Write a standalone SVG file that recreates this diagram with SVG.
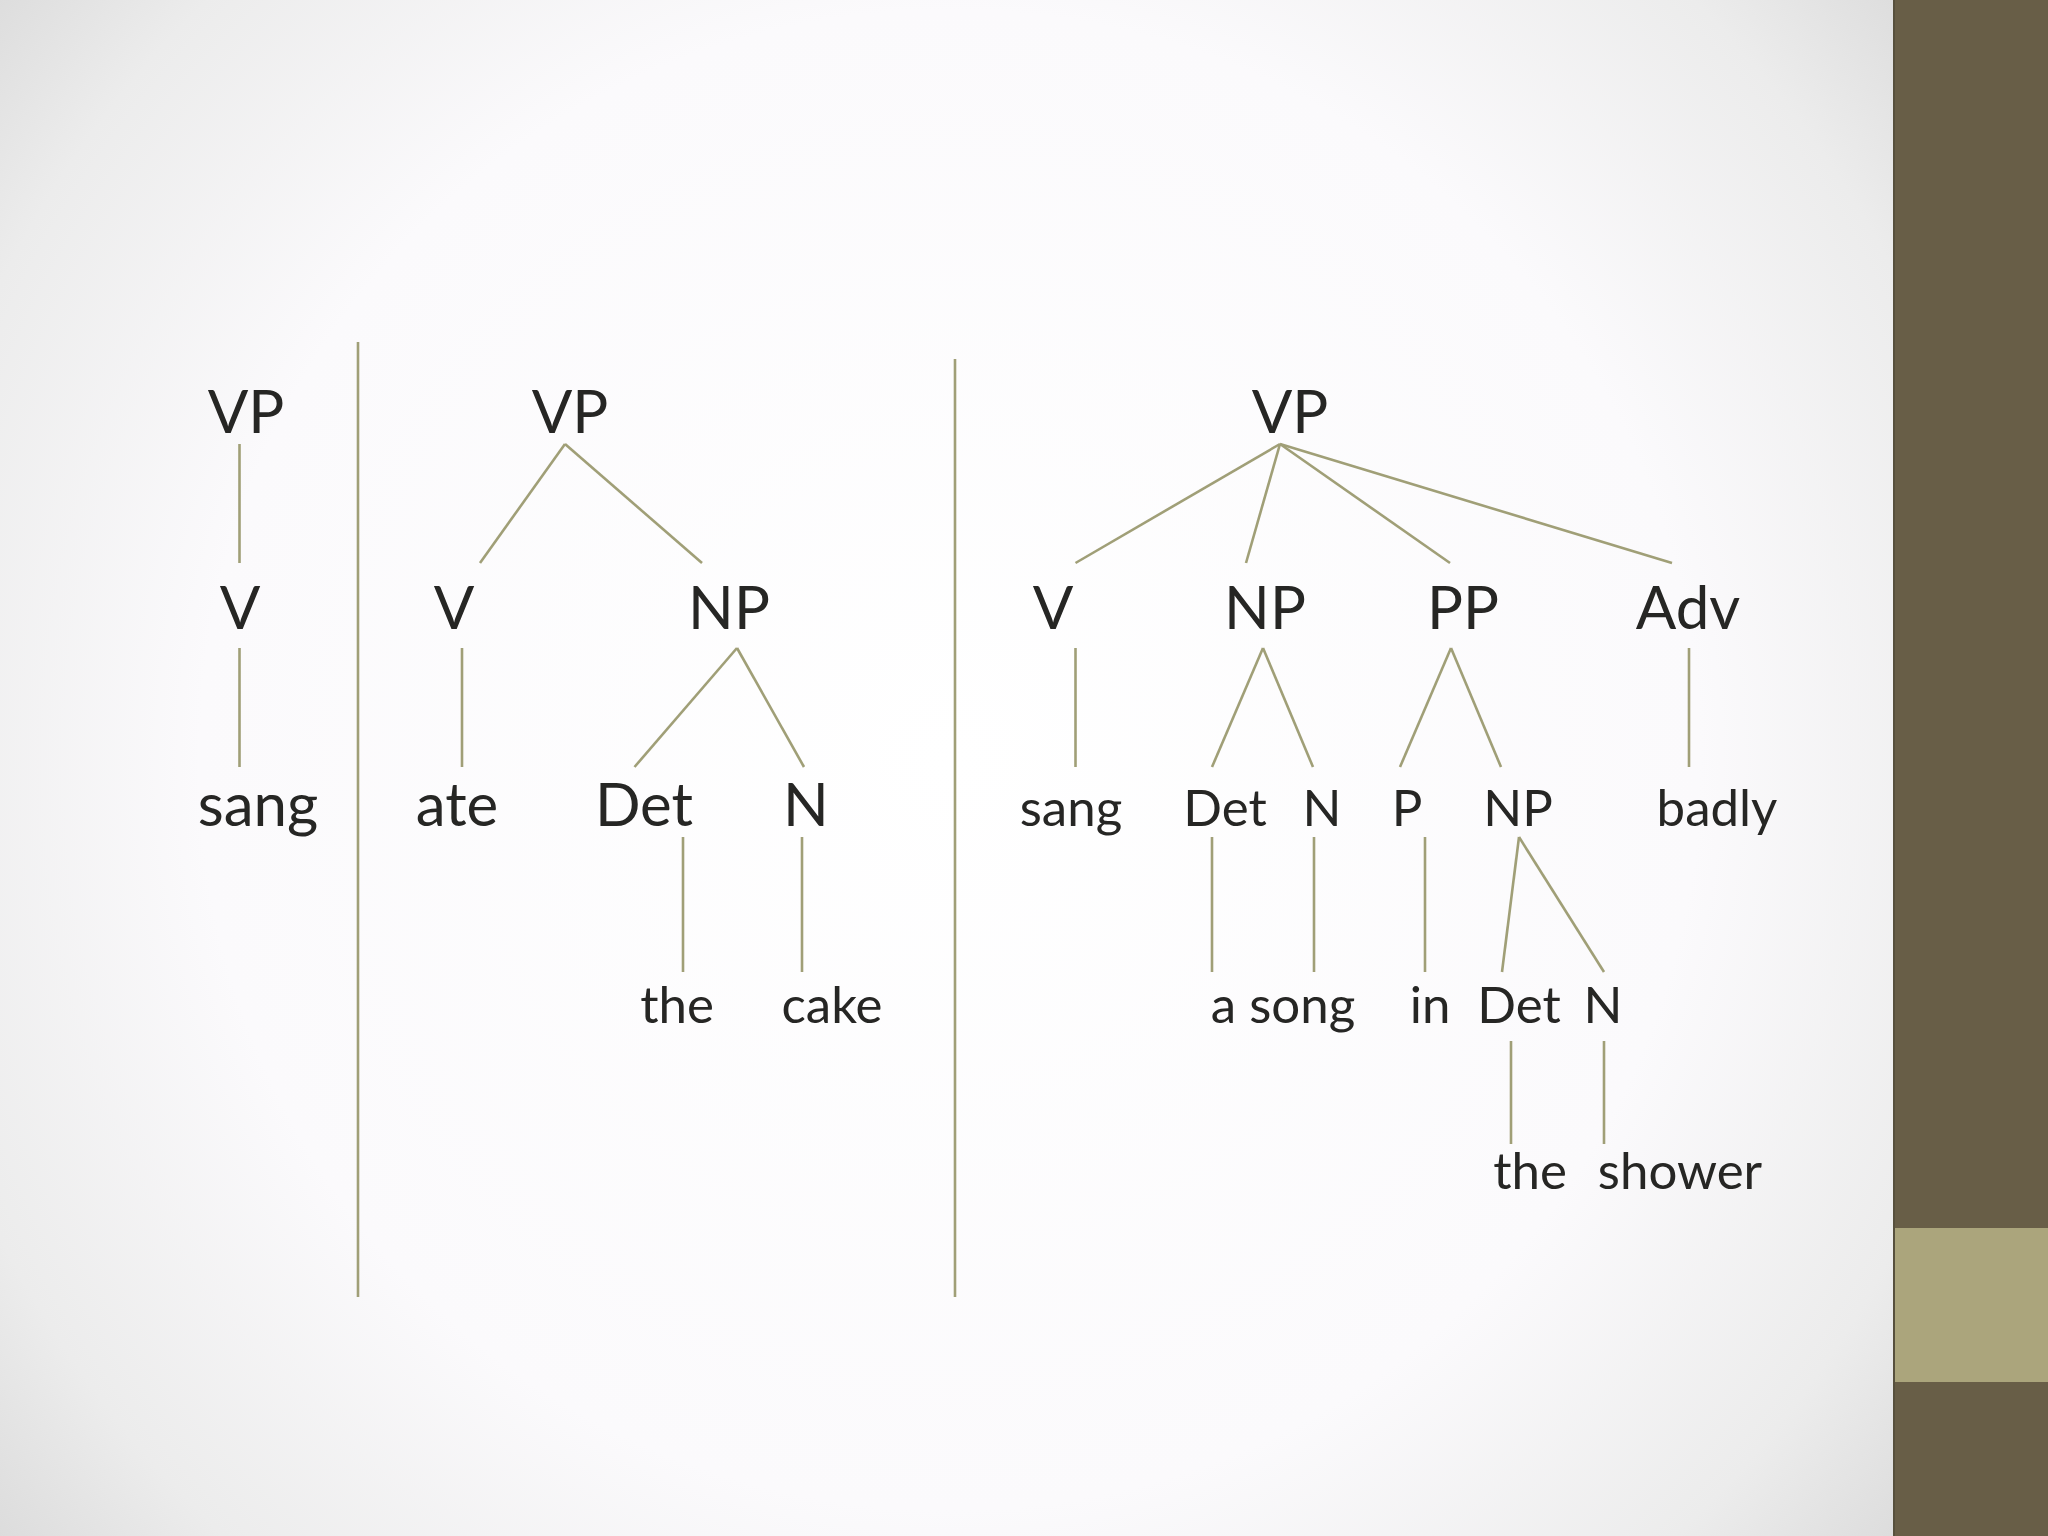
<svg xmlns="http://www.w3.org/2000/svg" width="2048" height="1536" viewBox="0 0 2048 1536">
<defs>
<radialGradient id="bg" gradientUnits="userSpaceOnUse" cx="950" cy="760" r="1250">
<stop offset="0" stop-color="#ffffff"/>
<stop offset="0.6" stop-color="#fbfafc"/>
<stop offset="0.85" stop-color="#ececec"/>
<stop offset="1" stop-color="#dadada"/>
</radialGradient>
<style>
.lbl{font-family:Lato,"Open Sans","Liberation Sans",sans-serif;fill:#262624;text-anchor:middle}
.big{font-size:60px}
.sm{font-size:51px}
.edge{stroke:#a09f77;stroke-width:2.6;fill:none}
.div{stroke:#a09f77;stroke-width:2.6}
</style>
</defs>
<rect x="0" y="0" width="2048" height="1536" fill="url(#bg)"/>
<rect x="1894" y="0" width="154" height="1536" fill="#685e47"/>
<rect x="1894" y="1228" width="154" height="154" fill="#aba57c"/>
<line x1="1894" y1="0" x2="1894" y2="1536" stroke="#57503d" stroke-width="2"/>

<g id="dividers">
<line class="div" x1="358" y1="342" x2="358" y2="1297"/>
<line class="div" x1="955" y1="359" x2="955" y2="1297"/>
</g>

<g id="connectors">
<line class="edge" x1="239.5" y1="444" x2="239.5" y2="563"/>
<line class="edge" x1="239.5" y1="648" x2="239.5" y2="767"/>

<line class="edge" x1="565" y1="444" x2="480" y2="563"/>
<line class="edge" x1="565" y1="444" x2="702" y2="563"/>
<line class="edge" x1="462" y1="648" x2="462" y2="767"/>
<line class="edge" x1="737" y1="648" x2="634.5" y2="767"/>
<line class="edge" x1="737" y1="648" x2="804" y2="767"/>
<line class="edge" x1="683" y1="837" x2="683" y2="972"/>
<line class="edge" x1="802" y1="837" x2="802" y2="972"/>

<line class="edge" x1="1280" y1="444" x2="1075.5" y2="563"/>
<line class="edge" x1="1280" y1="444" x2="1246" y2="563"/>
<line class="edge" x1="1280" y1="444" x2="1450" y2="563"/>
<line class="edge" x1="1280" y1="444" x2="1672" y2="563"/>
<line class="edge" x1="1075.5" y1="648" x2="1075.5" y2="767"/>
<line class="edge" x1="1263" y1="648" x2="1212" y2="767"/>
<line class="edge" x1="1263" y1="648" x2="1313" y2="767"/>
<line class="edge" x1="1451" y1="648" x2="1400" y2="767"/>
<line class="edge" x1="1451" y1="648" x2="1501" y2="767"/>
<line class="edge" x1="1689" y1="648" x2="1689" y2="767"/>
<line class="edge" x1="1212" y1="837" x2="1212" y2="972"/>
<line class="edge" x1="1314" y1="837" x2="1314" y2="972"/>
<line class="edge" x1="1425" y1="837" x2="1425" y2="972"/>
<line class="edge" x1="1519" y1="837" x2="1502" y2="972"/>
<line class="edge" x1="1519" y1="837" x2="1604" y2="972"/>
<line class="edge" x1="1511" y1="1041" x2="1511" y2="1144"/>
<line class="edge" x1="1604" y1="1041" x2="1604" y2="1144"/>
</g>

<g id="t1-vp"><text class="lbl big" x="246" y="433">VP</text></g>
<g id="t1-v"><text class="lbl big" x="240" y="629">V</text></g>
<g id="t1-sang"><text class="lbl big" x="258" y="826">sang</text></g>

<g id="t2-vp"><text class="lbl big" x="570" y="433">VP</text></g>
<g id="t2-v"><text class="lbl big" x="454" y="629">V</text></g>
<g id="t2-np"><text class="lbl big" x="729" y="629">NP</text></g>
<g id="t2-ate"><text class="lbl big" x="457" y="826">ate</text></g>
<g id="t2-det"><text class="lbl big" x="644" y="826">Det</text></g>
<g id="t2-n"><text class="lbl big" x="806" y="826">N</text></g>
<g id="t2-the"><text class="lbl sm" x="677" y="1023">the</text></g>
<g id="t2-cake"><text class="lbl sm" x="832" y="1023">cake</text></g>

<g id="t3-vp"><text class="lbl big" x="1290" y="433">VP</text></g>
<g id="t3-v"><text class="lbl big" x="1053" y="629">V</text></g>
<g id="t3-np"><text class="lbl big" x="1265" y="629">NP</text></g>
<g id="t3-pp"><text class="lbl big" x="1463" y="629">PP</text></g>
<g id="t3-adv"><text class="lbl big" x="1688" y="629">Adv</text></g>
<g id="t3-sang"><text class="lbl sm" x="1071" y="826">sang</text></g>
<g id="t3-det"><text class="lbl sm" x="1225" y="826">Det</text></g>
<g id="t3-n"><text class="lbl sm" x="1322" y="826">N</text></g>
<g id="t3-p"><text class="lbl sm" x="1407" y="826">P</text></g>
<g id="t3-np2"><text class="lbl sm" x="1518" y="826">NP</text></g>
<g id="t3-badly"><text class="lbl sm" x="1717" y="826">badly</text></g>
<g id="t3-asong"><text class="lbl sm" x="1283" y="1023">a song</text></g>
<g id="t3-in"><text class="lbl sm" x="1430" y="1023">in</text></g>
<g id="t3-det2"><text class="lbl sm" x="1519" y="1023">Det</text></g>
<g id="t3-n2"><text class="lbl sm" x="1603" y="1023">N</text></g>
<g id="t3-the"><text class="lbl sm" x="1530" y="1189">the</text></g>
<g id="t3-shower"><text class="lbl sm" x="1680" y="1189">shower</text></g>
</svg>
